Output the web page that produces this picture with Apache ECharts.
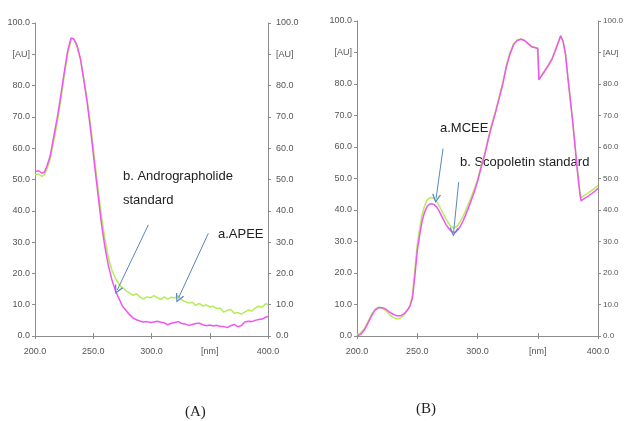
<!DOCTYPE html>
<html>
<head>
<meta charset="utf-8">
<script src="https://cdn.jsdelivr.net/npm/echarts@6/dist/echarts.min.js"></script>
<style>
html, body { margin: 0; padding: 0; background: #fff; }
#main { width: 624px; height: 421px; }
</style>
</head>
<body>
<div id="main"></div>
<script>
// panel A: wavelengths (nm) and absorbance (AU)
var waveA = [200,203,206,208,210,213,216,219,222,225,228,231,233,236,239,242,245,248,251,254,257,260,263,266,269,272,275,278,281,284,287,290,293,296,299,302,305,308,311,314,317,320,323,326,329,332,335,338,341,344,347,350,353,356,359,362,365,368,371,374,377,380,383,386,389,392,395,398,400];
var apee = [51.5,51.8,51,51.5,53,56.5,62,68,75,83,90,94.8,95,92.5,88.5,82,75,66.5,57,47.5,38.5,31,25,21,18.5,16.5,15.5,14.5,13.8,13,13.5,12.5,11.8,12.5,12.2,12.9,12.3,11.6,12.5,11.8,12.4,12.2,12.8,11.5,11,10.5,10.8,9.8,10.4,9.6,9.9,9.3,9.5,8.8,8.9,7.6,8.2,8.5,7.3,7.5,7,7.6,8.3,8,8.9,9.5,9.2,10.3,10.1];
var androStd = [52.5,52.8,52,52.3,54,57.5,63.5,69.5,76.5,84,91,95.2,95,93,88.5,81.5,74,65,55,45.5,36,28.5,22.5,18,14.5,12,9.6,8.2,6.9,5.8,5.2,4.8,4.5,4.6,4.3,4.5,4.7,4.4,4.2,3.6,4.1,4.3,4.6,4,3.8,3.4,3.7,4,4.1,3.6,3.3,3.5,3.2,3.4,3.1,3,2.7,3.3,3.7,3,3.3,4.5,4.7,4.6,5,5.3,5.4,6,6.2];

// panel B
var waveB = [200,203,206,209,212,215,218,221,224,227,230,233,236,239,242,244,246,248,250,252,254,256,258,260,262,264,266,268,270,272,274,276,278,280,282,284,286,288,290,292,294,296,298,300,303,306,309,312,315,318,321,324,327,330,333,336,339,342,345,348,350,351,353,356,359,362,365,368,369,371,373,375,377,379,381,383,385,386,388,391,394,397,400];
var mcee = [0.3,1,2.3,4.5,6.8,8.5,9.2,8.8,8,6.8,5.9,5.5,5.7,6.6,8.2,9.8,13,21,29,34,38.5,41.2,43,43.8,44,43.6,42.8,41.5,40,38.5,37,35.8,34.8,34.3,34.5,35.3,36.5,38,39.7,41.5,43.3,45.3,47.3,49.6,54,58,63,67.5,71.5,76,80.5,86,90,92.8,94,94.3,93.9,92.9,91.9,91.6,91.4,81.6,82.7,84.4,86.2,88.2,91.2,94.3,95.3,93.6,89.7,82.3,75.3,68.3,60.4,52.5,45.6,43.8,44.5,45.2,46,46.8,47.8];
var scopStd = [0,0.5,1.8,4,6.4,8.2,9,9,8.5,7.6,6.9,6.4,6.4,7,8.3,9.5,12,19,27,32,36.5,39.2,41,41.8,42,41.7,41,39.8,38.2,36.8,35.3,34.2,33.3,32.8,33,33.8,35,36.5,38.3,40.2,42.2,44.3,46.5,49,53.5,57.5,62.5,67,71,75.5,80,85.5,89.5,92.5,93.8,94.2,93.8,92.8,91.8,91.5,91.3,81.3,82.5,84.2,86,88,91,94.2,95.3,93.5,89.5,82,75,68,60,52,45,42.9,43.5,44.2,45,45.8,46.9];

var xTicks = [200, 250, 300, 350, 400];
var yTicks = [0, 10, 20, 30, 40, 50, 60, 70, 80, 90, 100];

function pairs(xs, ys) {
  var out = [];
  for (var i = 0; i < xs.length; i++) out.push([xs[i], ys[i]]);
  return out;
}

var axisColor = '#8c8c8c';
var labelFont = '"Liberation Sans", Arial, sans-serif';
var green = '#b5ec5a';
var magenta = '#f055f0';
var arrowColor = '#5b86bf';
// open "V" arrow head, pointing up before rotation
var openHead = 'path://M0,10 L5,0 L10,10 L8.6,10.6 L5,3 L1.4,10.6 Z';

function xAxisDef(grid, pos) {
  return {
    type: 'value', gridIndex: grid, position: pos,
    min: xTicks[0], max: xTicks[xTicks.length - 1], interval: 50,
    axisLine: { show: true, lineStyle: { color: axisColor, width: 1 } },
    axisTick: { show: true, length: 3, lineStyle: { color: axisColor } },
    splitLine: { show: false },
    axisLabel: {
      show: pos === 'bottom', margin: 11, color: '#555', fontSize: 9, fontFamily: labelFont,
      formatter: function (v) { return v === 350 ? '[nm]' : v.toFixed(1); }
    }
  };
}
function yAxisDef(grid, pos, size, margin) {
  return {
    type: 'value', gridIndex: grid, position: pos,
    min: yTicks[0], max: yTicks[yTicks.length - 1], interval: 10,
    axisLine: { show: true, lineStyle: { color: axisColor, width: 1 } },
    axisTick: { show: true, length: 3, lineStyle: { color: axisColor } },
    splitLine: { show: false },
    axisLabel: {
      margin: margin, color: '#555', fontSize: size, fontFamily: labelFont,
      formatter: function (v) { return v === 90 ? '[AU]' : v.toFixed(1); }
    }
  };
}

function arrow(x1, y1, x2, y2) {
  return [{ coord: [x1, y1], symbol: 'none' }, { coord: [x2, y2], symbol: openHead, symbolSize: [9, 9] }];
}
function arrows(list) {
  return {
    silent: true, animation: false,
    lineStyle: { color: arrowColor, width: 1, type: 'solid' },
    label: { show: false },
    data: list
  };
}

var chart = echarts.init(document.getElementById('main'));
var noteFont = { fontFamily: '"Liberation Sans", Arial, sans-serif', fontSize: 13, fill: '#222' };

chart.setOption({
  animation: false,
  backgroundColor: '#fff',
  grid: [
    { left: 35, right: 356, top: 23, bottom: 85, outerBoundsMode: 'none' },
    { left: 357, right: 26, top: 21, bottom: 85, outerBoundsMode: 'none' }
  ],
  xAxis: [xAxisDef(0, 'bottom'), xAxisDef(0, 'top'), xAxisDef(1, 'bottom'), xAxisDef(1, 'top')],
  yAxis: [yAxisDef(0, 'left', 9, 5), yAxisDef(0, 'right', 9, 8), yAxisDef(1, 'left', 9, 5), yAxisDef(1, 'right', 8, 5)],
  series: [
    { name: 'a.APEE', type: 'line', xAxisIndex: 0, yAxisIndex: 0, data: pairs(waveA, apee),
      showSymbol: false, lineStyle: { color: green, width: 1.5 } },
    { name: 'b. Andrographolide standard', type: 'line', xAxisIndex: 0, yAxisIndex: 0, data: pairs(waveA, androStd),
      showSymbol: false, lineStyle: { color: magenta, width: 1.5 },
      markLine: arrows([arrow(297.3, 35.5, 270.6, 14.7), arrow(348.8, 32.8, 323, 12.0)]) },
    { name: 'a.MCEE', type: 'line', xAxisIndex: 2, yAxisIndex: 2, data: pairs(waveB, mcee),
      showSymbol: false, lineStyle: { color: green, width: 1.5 } },
    { name: 'b. Scopoletin standard', type: 'line', xAxisIndex: 2, yAxisIndex: 2, data: pairs(waveB, scopStd),
      showSymbol: false, lineStyle: { color: magenta, width: 1.5 },
      markLine: arrows([arrow(271.4, 59.5, 265.6, 43.6), arrow(284.4, 48.9, 280.2, 33)]) }
  ],
  graphic: [
    { type: 'text', left: 123, top: 170, style: Object.assign({ text: 'b. Andrographolide' }, noteFont) },
    { type: 'text', left: 123, top: 194, style: Object.assign({ text: 'standard' }, noteFont) },
    { type: 'text', left: 218, top: 228, style: Object.assign({ text: 'a.APEE' }, noteFont) },
    { type: 'text', left: 440, top: 122, style: Object.assign({ text: 'a.MCEE' }, noteFont) },
    { type: 'text', left: 460, top: 156, style: Object.assign({ text: 'b. Scopoletin standard' }, noteFont) },
    { type: 'text', left: 185, top: 405, style: { text: '(A)', fontFamily: '"Liberation Serif", serif', fontSize: 15, fill: '#222' } },
    { type: 'text', left: 416, top: 402, style: { text: '(B)', fontFamily: '"Liberation Serif", serif', fontSize: 15, fill: '#222' } }
  ]
});
</script>
</body>
</html>
